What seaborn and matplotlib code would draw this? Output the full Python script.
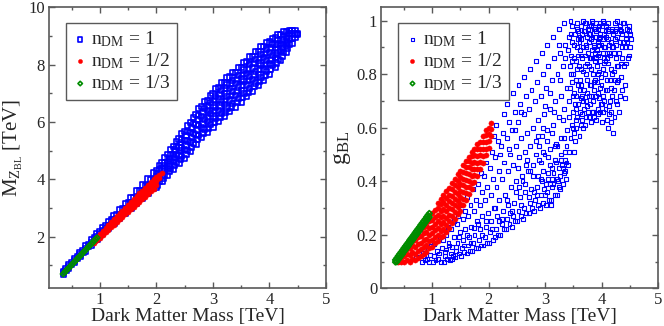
import matplotlib
matplotlib.use("Agg")
import matplotlib.pyplot as plt
import seaborn as sns
from matplotlib.ticker import MultipleLocator, FuncFormatter

sns.set_style("ticks")
plt.rcParams["font.family"] = ["Liberation Serif", "DejaVu Serif"]
plt.rcParams["mathtext.fontset"] = "custom"
plt.rcParams["mathtext.rm"] = "Liberation Serif"
plt.rcParams["mathtext.it"] = "Liberation Serif:italic"

labels = ["$\\mathrm{n_{DM}}$ = 1", "$\\mathrm{n_{DM}}$ = 1/2", "$\\mathrm{n_{DM}}$ = 1/3"]

# ---------------- LEFT PANEL: M_Z vs DM mass ----------------
blue1_cols = [0.35, 0.40, 0.45, 0.50, 0.55, 0.60, 0.65, 0.70, 0.75, 0.80,
              0.85, 0.90, 0.95, 1.00, 1.05, 1.10, 1.15, 1.20, 1.25, 1.30,
              1.35, 1.40, 1.45, 1.50, 1.55, 1.60, 1.65, 1.70, 1.75, 1.80,
              1.85, 1.90, 1.95,
              2.00, 2.05, 2.10, 2.15, 2.20, 2.25, 2.30, 2.35, 2.40, 2.45,
              2.50, 2.55, 2.60, 2.65, 2.70, 2.75, 2.80, 2.85, 2.90, 2.95,
              3.00, 3.05, 3.10, 3.15, 3.20, 3.25, 3.30, 3.35, 3.40, 3.45,
              3.50, 3.55, 3.60, 3.65, 3.70, 3.75, 3.80, 3.85, 3.90, 3.95,
              4.00, 4.05, 4.10, 4.15, 4.20, 4.25, 4.30, 4.35, 4.40, 4.45,
              4.50]
blue1_vals = [
    [0.69, 0.74, 0.79], [0.82, 0.88], [0.89, 0.95, 1.01], [1.03, 1.10],
    [1.10, 1.16, 1.24], [1.23, 1.31], [1.30, 1.37, 1.46], [1.44, 1.53],
    [1.50, 1.59, 1.68], [1.65, 1.74], [1.71, 1.80, 1.90], [1.86, 1.96],
    [1.91, 2.01, 2.12], [2.06, 2.18], [2.10, 2.21, 2.33], [2.25, 2.37],
    [2.28, 2.40, 2.54], [2.43, 2.58], [2.46, 2.59, 2.75], [2.62, 2.78],
    [2.63, 2.78, 2.96], [2.80, 2.98], [2.81, 2.98, 3.17], [2.98, 3.18],
    [2.98, 3.17, 3.38], [3.17, 3.38], [3.16, 3.36, 3.59], [3.35, 3.59],
    [3.34, 3.55, 3.80], [3.54, 3.79], [3.51, 3.74, 4.01], [3.72, 4.00],
    [3.69, 3.94, 4.22],
    [3.71, 3.90, 4.10, 4.29], [3.92, 4.12, 4.33, 4.47],
    [3.93, 4.14, 4.36, 4.57], [4.15, 4.38, 4.60, 4.75],
    [4.14, 4.38, 4.62, 4.86], [4.37, 4.62, 4.88, 5.04],
    [4.35, 4.62, 4.88, 5.15], [4.59, 4.87, 5.14, 5.32],
    [4.55, 4.84, 5.12, 5.41], [4.79, 5.09, 5.39, 5.59],
    [4.73, 5.04, 5.36, 5.67], [5.01, 5.34, 5.66, 5.87],
    [4.97, 5.30, 5.64, 5.97], [5.27, 5.61, 5.94, 6.17],
    [5.22, 5.57, 5.91, 6.26], [5.52, 5.87, 6.22, 6.46],
    [5.46, 5.82, 6.18, 6.54], [5.73, 6.10, 6.47, 6.71],
    [5.64, 6.01, 6.39, 6.76], [5.92, 6.30, 6.68, 6.93],
    [5.82, 6.21, 6.59, 6.98], [6.11, 6.50, 6.89, 7.15],
    [6.01, 6.40, 6.80, 7.19], [6.31, 6.70, 7.09, 7.36],
    [6.21, 6.60, 7.00, 7.39], [6.49, 6.89, 7.29, 7.55],
    [6.37, 6.77, 7.17, 7.57], [6.64, 7.05, 7.46, 7.73],
    [6.52, 6.93, 7.33, 7.74], [6.81, 7.22, 7.63, 7.90],
    [6.69, 7.10, 7.50, 7.91], [6.99, 7.40, 7.81, 8.08],
    [6.88, 7.29, 7.69, 8.10], [7.18, 7.59, 8.00, 8.27],
    [7.07, 7.48, 7.88, 8.29], [7.36, 7.77, 8.18, 8.45],
    [7.26, 7.66, 8.06, 8.46], [7.56, 7.96, 8.35, 8.62],
    [7.46, 7.85, 8.25, 8.64], [7.76, 8.14, 8.52, 8.78],
    [7.67, 8.04, 8.42, 8.79], [7.97, 8.33, 8.69, 8.92],
    [7.91, 8.25, 8.59, 8.93], [8.19, 8.51, 8.83, 9.05],
    [8.15, 8.45, 8.75, 9.05], [8.43, 8.70, 8.97, 9.15],
    [8.44, 8.68, 8.92, 9.16], [8.70, 8.90, 9.10, 9.18],
    [8.75, 8.92, 9.08, 9.20], [8.95, 9.07, 9.18],
    [9.05, 9.10],
]
# in-between columns of the wide part of the band
blue1_mid_cols = [2.025, 2.125, 2.225, 2.325, 2.425, 2.525, 2.625, 2.725,
                  2.825, 2.925, 3.025, 3.125, 3.225, 3.325, 3.425, 3.525,
                  3.625, 3.725, 3.825, 3.925, 4.025, 4.125, 4.225, 4.325]
blue1_mid_vals = [
    [3.80, 4.01, 4.21], [4.04, 4.26, 4.47], [4.26, 4.50, 4.74],
    [4.47, 4.75, 5.02], [4.70, 5.00, 5.28], [4.88, 5.20, 5.52],
    [5.12, 5.46, 5.80], [5.38, 5.72, 6.08], [5.60, 5.96, 6.34],
    [5.78, 6.16, 6.54], [5.97, 6.36, 6.76], [6.16, 6.56, 6.96],
    [6.35, 6.76, 7.16], [6.52, 6.93, 7.33], [6.67, 7.08, 7.49],
    [6.85, 7.26, 7.66], [7.04, 7.45, 7.85], [7.23, 7.64, 8.04],
    [7.42, 7.82, 8.22], [7.62, 8.00, 8.39], [7.83, 8.19, 8.55],
    [8.06, 8.38, 8.70], [8.30, 8.58, 8.86], [8.56, 8.78, 9.00],
]

red1_cols = [0.90, 0.95, 1.00, 1.05, 1.10, 1.15, 1.20, 1.25, 1.30, 1.35,
             1.40, 1.45, 1.50, 1.55, 1.60, 1.65, 1.70, 1.75, 1.80, 1.85,
             1.90, 1.95, 2.00, 2.05, 2.10]
red1_vals = [
    [1.77, 1.84, 1.90], [1.87, 1.95, 2.00], [1.97, 2.05, 2.11],
    [2.07, 2.15, 2.21], [2.16, 2.24, 2.31], [2.25, 2.34, 2.41],
    [2.33, 2.43, 2.51], [2.42, 2.53, 2.61], [2.51, 2.62, 2.71],
    [2.60, 2.72, 2.81], [2.69, 2.81, 2.91], [2.78, 2.91, 3.01],
    [2.87, 3.00, 3.11], [2.96, 3.10, 3.21], [3.05, 3.19, 3.31],
    [3.14, 3.29, 3.41], [3.22, 3.38, 3.51], [3.31, 3.48, 3.61],
    [3.40, 3.57, 3.71], [3.49, 3.67, 3.81], [3.58, 3.76, 3.91],
    [3.67, 3.86, 4.01], [3.80, 3.95, 4.08], [4.05, 4.15], [4.22],
]

green1_x = [0.35, 0.375, 0.40, 0.425, 0.45, 0.475, 0.50, 0.525, 0.55, 0.575,
            0.60, 0.625, 0.65, 0.675, 0.70, 0.725, 0.75, 0.775, 0.80, 0.825,
            0.85, 0.875, 0.90, 0.925, 0.95]
green1_y = [0.70, 0.75, 0.81, 0.86, 0.91, 0.96, 1.02, 1.07, 1.12, 1.17,
            1.23, 1.28, 1.33, 1.38, 1.44, 1.49, 1.54, 1.59, 1.65, 1.70,
            1.75, 1.80, 1.86, 1.91, 1.96]

# ---------------- RIGHT PANEL: g_BL vs DM mass ----------------
blue2_x = [
    0.72, 0.76, 0.78,
    0.82, 0.85, 0.88, 0.86,
    0.91, 0.94, 0.96, 0.98,
    1.01, 1.03, 1.06, 1.08, 1.04,
    1.11, 1.13, 1.15, 1.17, 1.19, 1.14,
    1.21, 1.23, 1.25, 1.27, 1.29, 1.24, 1.28,
    1.31, 1.33, 1.35, 1.37, 1.39, 1.34, 1.38,
    1.41, 1.43, 1.45, 1.47, 1.49, 1.44, 1.46,
    1.51, 1.53, 1.55, 1.57, 1.59, 1.54, 1.58, 1.52,
    1.61, 1.63, 1.65, 1.67, 1.69, 1.64, 1.68, 1.62,
    1.71, 1.73, 1.75, 1.77, 1.79, 1.74, 1.78, 1.72,
    1.81, 1.83, 1.85, 1.87, 1.89, 1.84, 1.88, 1.82, 1.86,
    1.91, 1.93, 1.95, 1.97, 1.99, 1.94, 1.98, 1.92, 1.96,
    2.01, 2.03, 2.05, 2.07, 2.09, 2.04, 2.08, 2.02, 2.06, 2.09,
    2.11, 2.13, 2.15, 2.17, 2.19, 2.14, 2.18, 2.12, 2.16, 2.13,
    2.21, 2.23, 2.25, 2.27, 2.29, 2.24, 2.28, 2.22, 2.26, 2.28,
    2.31, 2.33, 2.35, 2.37, 2.39, 2.34, 2.38, 2.32, 2.36, 2.33,
    2.41, 2.43, 2.45, 2.47, 2.49, 2.44, 2.48, 2.42, 2.46, 2.44,
    2.51, 2.53, 2.55, 2.57, 2.59, 2.54, 2.58, 2.52, 2.56, 2.53,
    2.61, 2.63, 2.65, 2.67, 2.69, 2.64, 2.68, 2.62, 2.66, 2.63,
    2.71, 2.73, 2.75, 2.77, 2.79, 2.74, 2.78, 2.72, 2.76, 2.73,
    2.81, 2.83, 2.85, 2.87, 2.89, 2.84, 2.88, 2.82, 2.86, 2.84, 2.88,
    2.91, 2.93, 2.95, 2.97, 2.99, 2.94, 2.98, 2.92, 2.96, 2.94, 2.97,
    3.01, 3.03, 3.05, 3.07, 3.09, 3.04, 3.08, 3.02, 3.06, 3.04, 3.08, 3.02,
    3.11, 3.13, 3.15, 3.17, 3.19, 3.14, 3.18, 3.12, 3.16, 3.14, 3.18, 3.12,
    3.21, 3.23, 3.25, 3.27, 3.29, 3.24, 3.28, 3.22, 3.26, 3.24, 3.28,
    3.31, 3.33, 3.35, 3.37, 3.39, 3.34, 3.38, 3.32, 3.36, 3.34, 3.38, 3.32,
    3.41, 3.43, 3.45, 3.47, 3.49, 3.42, 3.44, 3.46, 3.48, 3.41, 3.43, 3.47, 3.45, 3.49,
    3.51, 3.53, 3.55, 3.57, 3.59, 3.52, 3.54, 3.56, 3.58, 3.51, 3.53, 3.57, 3.55, 3.59, 3.52,
    3.61, 3.63, 3.65, 3.67, 3.69, 3.62, 3.64, 3.66, 3.68, 3.61, 3.63, 3.67, 3.65, 3.69, 3.62,
    3.71, 3.73, 3.75, 3.77, 3.79, 3.72, 3.74, 3.76, 3.78, 3.71, 3.73, 3.77, 3.75, 3.79, 3.72,
    3.81, 3.83, 3.85, 3.87, 3.89, 3.82, 3.84, 3.86, 3.88, 3.81, 3.83, 3.87, 3.85, 3.89, 3.82,
    3.91, 3.93, 3.95, 3.97, 3.99, 3.92, 3.94, 3.96, 3.98, 3.91, 3.93, 3.97, 3.95, 3.99, 3.92,
    4.01, 4.03, 4.05, 4.07, 4.09, 4.02, 4.04, 4.06, 4.08, 4.01, 4.03, 4.07, 4.05, 4.09,
    4.11, 4.13, 4.15, 4.17, 4.19, 4.12, 4.14, 4.16, 4.18, 4.11, 4.15, 4.19,
    4.21, 4.23, 4.25, 4.27, 4.29, 4.22, 4.24, 4.26, 4.28, 4.22,
    4.31, 4.33, 4.35, 4.37, 4.32, 4.34, 4.38, 4.36,
    4.41, 4.43, 4.42, 4.44, 4.46, 4.48, 4.41,
    4.51, 4.53, 4.49,
]
blue2_y = [
    0.115, 0.13, 0.21,
    0.10, 0.12, 0.105, 0.145,
    0.11, 0.10, 0.125, 0.16,
    0.10, 0.12, 0.105, 0.14, 0.165,
    0.11, 0.13, 0.10, 0.15, 0.18, 0.19,
    0.10, 0.12, 0.145, 0.11, 0.17, 0.20, 0.23,
    0.105, 0.13, 0.155, 0.12, 0.19, 0.22, 0.25,
    0.115, 0.14, 0.17, 0.13, 0.21, 0.24, 0.27,
    0.12, 0.15, 0.18, 0.135, 0.22, 0.26, 0.29, 0.31,
    0.13, 0.16, 0.19, 0.14, 0.23, 0.27, 0.31, 0.34,
    0.14, 0.17, 0.20, 0.15, 0.25, 0.29, 0.33, 0.37,
    0.15, 0.18, 0.22, 0.16, 0.27, 0.31, 0.36, 0.39, 0.43,
    0.16, 0.19, 0.23, 0.17, 0.28, 0.33, 0.38, 0.42, 0.47,
    0.17, 0.21, 0.25, 0.18, 0.30, 0.35, 0.41, 0.45, 0.51, 0.57,
    0.19, 0.22, 0.27, 0.20, 0.33, 0.38, 0.44, 0.49, 0.55, 0.61,
    0.20, 0.24, 0.29, 0.22, 0.35, 0.41, 0.47, 0.53, 0.58, 0.65,
    0.22, 0.26, 0.31, 0.24, 0.38, 0.44, 0.50, 0.56, 0.62, 0.69,
    0.23, 0.27, 0.32, 0.25, 0.40, 0.46, 0.53, 0.59, 0.66, 0.73,
    0.25, 0.29, 0.34, 0.27, 0.42, 0.49, 0.56, 0.62, 0.69, 0.76,
    0.26, 0.30, 0.36, 0.28, 0.44, 0.51, 0.58, 0.65, 0.72, 0.79,
    0.28, 0.32, 0.37, 0.30, 0.46, 0.53, 0.60, 0.67, 0.74, 0.82,
    0.29, 0.33, 0.38, 0.31, 0.48, 0.55, 0.63, 0.70, 0.77, 0.85, 0.42,
    0.30, 0.35, 0.40, 0.32, 0.50, 0.57, 0.65, 0.72, 0.80, 0.88, 0.44,
    0.31, 0.36, 0.41, 0.33, 0.52, 0.59, 0.67, 0.75, 0.83, 0.91, 0.46, 0.39,
    0.33, 0.38, 0.43, 0.35, 0.54, 0.61, 0.70, 0.78, 0.86, 0.94, 0.48, 0.41,
    0.35, 0.40, 0.45, 0.37, 0.56, 0.64, 0.72, 0.80, 0.88, 0.97, 0.50,
    0.39, 0.43, 0.48, 0.41, 0.59, 0.67, 0.75, 0.83, 0.91, 0.99, 0.53, 0.63,
    0.46, 0.51, 0.56, 0.61, 0.66, 0.70, 0.75, 0.80, 0.85, 0.89, 0.94, 0.98, 1.00, 0.72,
    0.51, 0.55, 0.60, 0.64, 0.69, 0.73, 0.78, 0.82, 0.87, 0.91, 0.95, 0.99, 0.67, 0.93, 0.58,
    0.57, 0.61, 0.65, 0.70, 0.74, 0.78, 0.82, 0.86, 0.90, 0.94, 0.98, 1.00, 0.72, 0.96, 0.66,
    0.61, 0.64, 0.68, 0.72, 0.76, 0.80, 0.84, 0.88, 0.92, 0.96, 0.99, 0.95, 0.78, 0.86, 0.70,
    0.62, 0.66, 0.70, 0.74, 0.78, 0.82, 0.86, 0.90, 0.94, 0.98, 1.00, 0.97, 0.80, 0.88, 0.72,
    0.63, 0.67, 0.71, 0.75, 0.79, 0.83, 0.87, 0.91, 0.95, 0.99, 0.97, 0.85, 0.93, 0.69, 0.77,
    0.62, 0.66, 0.70, 0.74, 0.78, 0.82, 0.86, 0.90, 0.94, 0.98, 1.00, 0.96, 0.84, 0.88,
    0.60, 0.65, 0.70, 0.75, 0.80, 0.84, 0.88, 0.92, 0.96, 0.99, 0.78, 0.90,
    0.58, 0.64, 0.70, 0.77, 0.83, 0.88, 0.93, 0.97, 1.00, 0.74,
    0.66, 0.72, 0.79, 0.86, 0.92, 0.96, 0.99, 0.90,
    0.76, 0.84, 0.90, 0.95, 0.92, 0.98, 0.71,
    0.90, 0.93, 0.87,
]
# extra scattered points (dense top-right cluster, middle and lower band)
blue2_extra_x = [
    3.44, 3.48, 3.52, 3.56, 3.58, 3.62, 3.64, 3.66, 3.68, 3.70, 3.72, 3.74,
    3.76, 3.78, 3.80, 3.82, 3.84, 3.86, 3.88, 3.90, 3.92, 3.94, 3.96, 3.98,
    4.00, 4.02, 4.04, 4.06, 4.08, 4.10, 4.12, 4.14, 4.16, 4.18, 4.20, 4.22,
    4.24, 4.26, 4.28, 4.30, 4.32, 4.34, 4.36, 4.38, 4.40, 4.45, 4.50, 4.47,
    3.53, 3.61, 3.69, 3.77, 3.85, 3.93, 4.01, 4.09, 4.17, 3.47, 3.55, 3.63,
    3.71, 3.79, 3.87, 3.95, 4.03, 4.11, 4.19,
    3.42, 3.46, 3.50, 3.54, 3.57, 3.60, 3.63, 3.66, 3.68, 3.71, 3.73, 3.76,
    3.78, 3.81, 3.83, 3.86, 3.88, 3.90, 3.93, 3.96, 3.98, 4.00, 4.03, 4.05,
    4.07, 4.10, 4.12, 4.15, 4.17, 4.20, 4.23, 4.25, 4.28, 4.31, 4.33, 4.36,
    4.39, 4.43, 4.49, 3.45, 3.49, 3.58, 3.64, 3.74, 3.84, 3.94, 4.04, 4.14,
    4.24, 3.91, 3.81, 3.61, 3.55, 3.97, 4.07, 4.27,
    2.86, 2.92, 2.98, 3.03, 3.06, 3.10, 3.12, 3.15, 3.20, 3.22, 3.26, 3.30,
    3.33, 3.36, 2.90, 2.96, 3.00, 3.08, 3.16, 3.27, 3.35, 3.24,
    2.52, 2.60, 2.66, 2.74, 2.80, 2.84, 2.88, 2.93, 2.97, 3.00, 3.05, 3.09,
    3.13, 3.17, 3.21, 3.25, 3.29, 3.32, 3.36, 3.38,
    1.22, 1.36, 1.42, 1.56, 1.62, 1.74, 1.82, 1.96, 2.06, 2.12, 2.24, 2.32,
    2.42, 2.48, 2.58, 2.64, 2.72, 2.78, 1.30, 1.48, 1.68, 1.88, 2.18, 2.38,
    2.54, 2.68, 2.46, 2.58, 2.36, 2.20,
]
blue2_extra_y = [
    0.83, 0.92, 0.86, 0.97, 0.76, 0.89, 0.93, 0.63, 0.81, 0.99, 0.91, 0.73,
    0.97, 0.83, 0.69, 0.93, 0.99, 0.77, 0.85, 0.96, 0.89, 0.65, 0.81, 0.99,
    0.91, 0.72, 0.95, 0.80, 0.98, 0.86, 0.93, 0.68, 0.82, 0.97, 0.90, 0.81,
    0.99, 0.86, 0.94, 0.78, 0.98, 0.84, 0.95, 0.92, 0.99, 0.97, 0.95, 0.86,
    0.69, 0.74, 0.67, 0.64, 0.66, 0.73, 0.69, 0.63, 0.66, 0.77, 0.85, 0.71,
    0.87, 0.95, 0.91, 0.98, 0.88, 0.96, 0.72,
    0.64, 0.87, 0.80, 0.63, 0.90, 0.83, 0.76, 0.95, 0.60, 0.83, 0.90, 0.66,
    0.98, 0.76, 0.89, 0.64, 0.97, 0.72, 0.80, 0.88, 0.66, 0.76, 0.93, 0.99,
    0.67, 0.74, 0.97, 0.87, 0.62, 0.95, 0.78, 0.91, 0.69, 0.88, 0.97, 0.74,
    0.83, 0.93, 0.96, 0.95, 0.60, 0.96, 0.87, 0.94, 0.94, 0.92, 0.90, 0.91,
    0.96, 0.86, 0.86, 0.92, 0.72, 0.94, 0.85, 0.83,
    0.35, 0.47, 0.37, 0.55, 0.43, 0.31, 0.58, 0.39, 0.47, 0.53, 0.42, 0.46,
    0.56, 0.44, 0.53, 0.60, 0.68, 0.73, 0.66, 0.78, 0.86, 0.91,
    0.45, 0.40, 0.46, 0.44, 0.36, 0.50, 0.57, 0.41, 0.51, 0.35, 0.49, 0.39,
    0.45, 0.53, 0.41, 0.38, 0.48, 0.45, 0.51, 0.47,
    0.135, 0.11, 0.155, 0.16, 0.20, 0.225, 0.24, 0.25, 0.22, 0.30, 0.26, 0.33,
    0.29, 0.36, 0.31, 0.39, 0.34, 0.42, 0.16, 0.19, 0.17, 0.20, 0.25, 0.28,
    0.38, 0.48, 0.59, 0.66, 0.52, 0.50,
]

red2_cols = [0.40, 0.45, 0.50, 0.55, 0.60, 0.65, 0.70, 0.75, 0.80, 0.85,
             0.90, 0.95, 1.00, 1.05, 1.10, 1.15, 1.20, 1.25, 1.30, 1.35,
             1.40, 1.45, 1.50, 1.55, 1.60, 1.65, 1.70, 1.75, 1.80, 1.85,
             1.90, 1.95, 2.00, 2.05]
red2_vals = [
    [0.10], [0.10, 0.112], [0.10, 0.122], [0.104, 0.128, 0.145],
    [0.10, 0.125, 0.15], [0.11, 0.135, 0.16, 0.175],
    [0.105, 0.13, 0.155, 0.18], [0.115, 0.14, 0.165, 0.19, 0.205],
    [0.12, 0.145, 0.17, 0.195, 0.22], [0.13, 0.155, 0.18, 0.205, 0.23],
    [0.135, 0.16, 0.185, 0.21, 0.235, 0.255],
    [0.15, 0.175, 0.20, 0.225, 0.25, 0.27],
    [0.155, 0.18, 0.205, 0.23, 0.255, 0.28],
    [0.168, 0.192, 0.217, 0.242, 0.267, 0.292],
    [0.175, 0.20, 0.225, 0.25, 0.275, 0.30, 0.318],
    [0.19, 0.215, 0.24, 0.265, 0.29, 0.315, 0.333],
    [0.197, 0.222, 0.247, 0.272, 0.297, 0.322, 0.347],
    [0.212, 0.237, 0.262, 0.287, 0.312, 0.337, 0.362],
    [0.225, 0.25, 0.275, 0.30, 0.325, 0.35, 0.375],
    [0.245, 0.27, 0.295, 0.32, 0.345, 0.37, 0.395],
    [0.26, 0.285, 0.31, 0.335, 0.36, 0.385, 0.41],
    [0.277, 0.302, 0.327, 0.352, 0.377, 0.402, 0.427],
    [0.29, 0.315, 0.34, 0.365, 0.39, 0.415, 0.44],
    [0.31, 0.335, 0.36, 0.385, 0.41, 0.435, 0.46],
    [0.33, 0.355, 0.38, 0.405, 0.43, 0.455, 0.475],
    [0.352, 0.377, 0.402, 0.427, 0.452, 0.477, 0.492],
    [0.37, 0.395, 0.42, 0.445, 0.47, 0.495, 0.51],
    [0.397, 0.422, 0.447, 0.472, 0.497, 0.522],
    [0.42, 0.445, 0.47, 0.495, 0.52, 0.54],
    [0.447, 0.472, 0.497, 0.522, 0.547],
    [0.47, 0.495, 0.52, 0.545, 0.57],
    [0.497, 0.522, 0.547, 0.572, 0.59],
    [0.525, 0.55, 0.575, 0.60],
    [0.57, 0.595, 0.618],
]

green2_x = [0.35, 0.375, 0.40, 0.425, 0.45, 0.475, 0.50, 0.525, 0.55, 0.575,
            0.60, 0.625, 0.65, 0.675, 0.70, 0.725, 0.75, 0.775, 0.80, 0.825,
            0.85, 0.875, 0.90, 0.925, 0.95]
green2_y_lo = [0.098, 0.099, 0.107, 0.114, 0.121, 0.128, 0.136, 0.143, 0.150, 0.157,
               0.165, 0.172, 0.179, 0.186, 0.194, 0.201, 0.208, 0.215, 0.223, 0.230,
               0.237, 0.244, 0.252, 0.259, 0.266]
green2_y_hi = [0.106, 0.113, 0.121, 0.128, 0.135, 0.142, 0.150, 0.157, 0.164, 0.171,
               0.179, 0.186, 0.193, 0.200, 0.208, 0.215, 0.222, 0.229, 0.237, 0.244,
               0.251, 0.258, 0.266, 0.273, 0.280]


def flatten(cols, vals):
    xs, ys = [], []
    for x, col in zip(cols, vals):
        xs += [x] * len(col)
        ys += col
    return xs, ys


def style_axes(ax, ymajor, yminor, ylim, yfmt):
    ax.set_xlim(0.1, 5)
    ax.set_ylim(*ylim)
    ax.xaxis.set_major_locator(MultipleLocator(1))
    ax.xaxis.set_minor_locator(MultipleLocator(0.5))
    ax.yaxis.set_major_locator(MultipleLocator(ymajor))
    ax.yaxis.set_minor_locator(MultipleLocator(yminor))
    ax.yaxis.set_major_formatter(FuncFormatter(yfmt))
    ax.xaxis.set_major_formatter(FuncFormatter(lambda v, p: "%g" % v))
    ax.tick_params(which="both", direction="in", top=True, right=True,
                   color="0.35", width=1.0, labelsize=12, pad=3)
    ax.tick_params(which="major", length=4.5)
    ax.tick_params(which="minor", length=2.5)
    for sp in ax.spines.values():
        sp.set_color("0.35")
        sp.set_linewidth(1.2)
    ax.set_xlabel("Dark Matter Mass [TeV]", fontsize=14, labelpad=0)
    leg = ax.legend(loc="upper left", bbox_to_anchor=(0.06, 0.945),
                    borderaxespad=0, frameon=True, fancybox=False,
                    edgecolor="0.35", framealpha=1, fontsize=14,
                    handletextpad=0.15, handlelength=0.8, borderpad=0.35,
                    labelspacing=0.12, markerscale=0.8)
    leg.get_frame().set_linewidth(1.0)


fig, axes = plt.subplots(1, 2, figsize=(6.64, 3.26), dpi=100)
ax1, ax2 = axes
ax1.set_position([49 / 664, 37.7 / 326, 277 / 664, 281 / 326])
ax2.set_position([381.3 / 664, 37.7 / 326, 276.7 / 664, 281 / 326])

blue_band_kw = dict(marker="s", s=14, color="#0000ff", facecolor="none",
                    edgecolor="#0000ff", linewidth=1.2)
blue_cloud_kw = dict(marker="s", s=8, color="#0000ff", facecolor="none",
                     edgecolor="#0000ff", linewidth=0.8)
red_kw = dict(marker="o", s=14, color="#ff0000", edgecolor="#ff0000", linewidth=0.3)
green_kw = dict(marker="D", s=8, color="#008c00", facecolor="none",
                edgecolor="#008c00", linewidth=1.2)

# left
bx, by = flatten(blue1_cols, blue1_vals)
mx, my = flatten(blue1_mid_cols, blue1_mid_vals)
rx, ry = flatten(red1_cols, red1_vals)
sns.scatterplot(x=bx + mx, y=by + my, ax=ax1, label=labels[0], zorder=2, **blue_band_kw)
sns.scatterplot(x=rx, y=ry, ax=ax1, label=labels[1], zorder=3, **red_kw)
sns.scatterplot(x=green1_x, y=green1_y, ax=ax1, label=labels[2], zorder=4, **green_kw)
style_axes(ax1, 2, 1, (0.2, 10), lambda v, p: "%g" % v if v > 0.5 else "")
ax1.set_ylabel("$\\mathrm{M_{Z_{BL}}}$ [TeV]", fontsize=15, labelpad=2)

# right
rx2, ry2 = flatten(red2_cols, red2_vals)
sns.scatterplot(x=blue2_x + blue2_extra_x, y=blue2_y + blue2_extra_y, ax=ax2,
                label=labels[0], zorder=2, **blue_cloud_kw)
sns.scatterplot(x=rx2, y=ry2, ax=ax2, label=labels[1], zorder=3, **red_kw)
sns.scatterplot(x=green2_x + green2_x, y=green2_y_lo + green2_y_hi, ax=ax2,
                label=labels[2], zorder=4, **green_kw)
style_axes(ax2, 0.2, 0.1, (0, 1.05), lambda v, p: "%g" % round(v, 2))
ax2.set_ylabel("$\\mathrm{g_{BL}}$", fontsize=17, labelpad=2)

fig.savefig("out.png", dpi=100)
